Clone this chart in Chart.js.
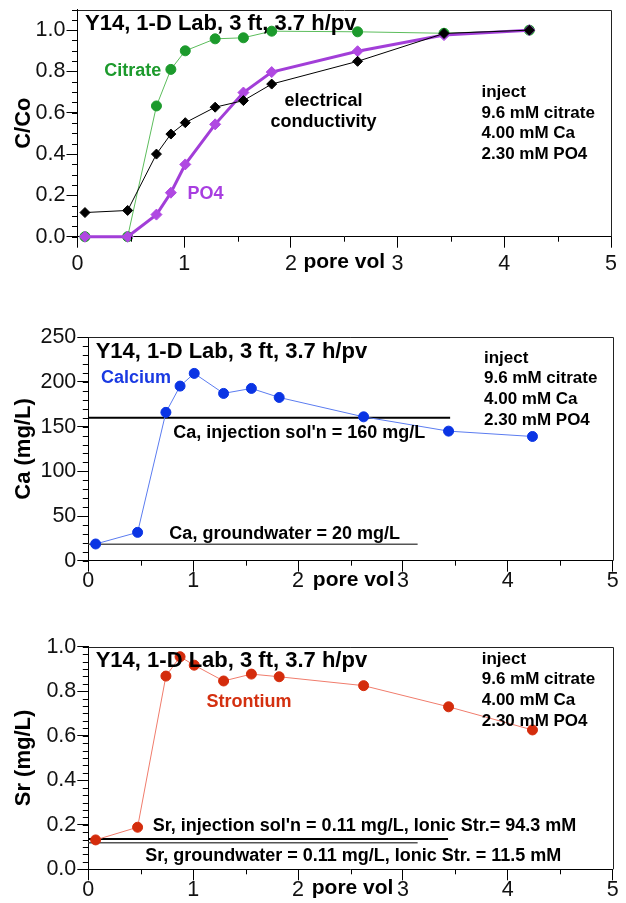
<!DOCTYPE html>
<html><head><meta charset="utf-8">
<script src="https://cdn.jsdelivr.net/npm/chart.js@4.4.1/dist/chart.umd.min.js"></script>
<style>
html,body{margin:0;padding:0;background:#fff;}
#wrap{position:relative;width:626px;height:903px;overflow:hidden;background:#fff;}
canvas{position:absolute;left:0;}
</style></head><body>
<div id="wrap">
<canvas id="c1" width="626" height="300" style="top:0px"></canvas>
<canvas id="c2" width="626" height="310" style="top:300px"></canvas>
<canvas id="c3" width="626" height="293" style="top:610px"></canvas>
</div>
<script>
// ---------- data ----------
const poreVol      = [0.07, 0.47, 0.74, 0.875, 1.01, 1.29, 1.555, 1.82, 2.625, 3.435, 4.235];
const citrateCCo   = [0, 0, 0.633, 0.81, 0.90, 0.958, 0.963, 0.995, 0.992, 0.985, 1.0];
const ecCCo        = [0.117, 0.127, 0.40, 0.497, 0.552, 0.627, 0.659, 0.739, 0.849, 0.984, 1.0];
const po4CCo       = [0, 0, 0.107, 0.213, 0.35, 0.544, 0.698, 0.797, 0.898, 0.976, 1.0];
const calciumMgL   = [18.7, 31.7, 166, 195.4, 209.6, 187.2, 192.8, 182.7, 161, 145, 139];
const strontiumMgL = [0.132, 0.189, 0.868, 0.955, 0.917, 0.846, 0.877, 0.865, 0.825, 0.730, 0.626];

// reference levels (as drawn) and their x extents
const caInjX = [0, 3.45],  caInjY = [160, 160];
const caGwX  = [0, 3.14],  caGwY  = [18.5, 18.5];
const srInjX = [0, 3.43],  srInjY = [0.136, 0.136];
const srGwX  = [0, 3.14],  srGwY  = [0.119, 0.119];

// ticks
const xTicks   = [0, 1, 2, 3, 4, 5];
const ccoTicks = [0, 0.2, 0.4, 0.6, 0.8, 1.0];
const caTicks  = [0, 50, 100, 150, 200, 250];
const srTicks  = [0, 0.2, 0.4, 0.6, 0.8, 1.0];

// texts
const titleText   = 'Y14, 1-D Lab, 3 ft, 3.7 h/pv';
const injectLines = ['inject', '9.6 mM citrate', '4.00 mM Ca', '2.30 mM PO4'];
const xTitle = 'pore vol';

// ---------- helpers ----------
const FONT = "'Liberation Sans', Arial, Helvetica, sans-serif";
Chart.defaults.font.family = FONT;
Chart.defaults.color = '#000';

function steps(min, max, step) {
  const out = []; const n = Math.round((max - min) / step);
  for (let i = 0; i <= n; i++) out.push(+(min + i * step).toFixed(6));
  return out;
}
const pts = (xs, ys) => xs.map((x, i) => ({x, y: ys[i]}));

const decor = {
  id: 'decor',
  afterDraw(chart, _a, o) {
    const {ctx, chartArea: a} = chart;
    const xs = chart.scales.x, ys = chart.scales.y;
    ctx.save();
    // top & right frame
    ctx.lineWidth = 1; ctx.strokeStyle = '#222';
    ctx.beginPath();
    const t = Math.round(a.top) + 0.5, r = Math.round(a.right) + 0.5;
    ctx.moveTo(a.left, t); ctx.lineTo(r, t); ctx.lineTo(r, a.bottom);
    ctx.stroke();
    // minor ticks
    ctx.strokeStyle = '#000';
    ctx.beginPath();
    o.yMinor.forEach(v => { const p = Math.round(ys.getPixelForValue(v)) + 0.5; ctx.moveTo(a.left - 5.5, p); ctx.lineTo(a.left, p); });
    o.xMinor.forEach(v => { const p = Math.round(xs.getPixelForValue(v)) + 0.5; ctx.moveTo(p, a.bottom); ctx.lineTo(p, a.bottom + 5); });
    ctx.stroke();
    // y title
    ctx.save();
    ctx.translate(24, (a.top + a.bottom) / 2);
    ctx.rotate(-Math.PI / 2);
    ctx.font = `bold 22px ${FONT}`; ctx.textAlign = 'center'; ctx.textBaseline = 'middle'; ctx.fillStyle = '#000';
    ctx.fillText(o.yTitle, 0, 0);
    ctx.restore();
    // x title
    ctx.font = `bold 21px ${FONT}`; ctx.textAlign = 'center'; ctx.textBaseline = 'alphabetic'; ctx.fillStyle = '#000';
    ctx.fillText(xTitle, xs.getPixelForValue(o.xTitleAt), a.bottom + o.xTitleDY);
    // title
    ctx.font = `bold 22px ${FONT}`; ctx.textAlign = 'left';
    ctx.fillText(titleText, a.left + o.titleDX, a.top + o.titleDY);
    // inject block
    ctx.font = `bold 17px ${FONT}`;
    injectLines.forEach((s, i) => ctx.fillText(s, a.right - o.injDX, a.top + o.injDY + i * 20.8));
    // annotations (anchored in data units)
    o.labels.forEach(l => {
      ctx.font = `bold ${l.size || 18}px ${FONT}`;
      ctx.textAlign = l.align || 'left';
      ctx.fillStyle = l.color || '#000';
      ctx.fillText(l.text, xs.getPixelForValue(l.x), ys.getPixelForValue(l.y));
    });
    ctx.restore();
  }
};

function makeScales(cfg) {
  return {
    x: {
      type: 'linear', position: 'bottom', min: 0, max: 5,
      afterBuildTicks: s => { s.ticks = xTicks.map(v => ({value: v})); },
      afterFit: s => { s.height = cfg.xH; s.paddingLeft = 0; s.paddingRight = 0; s.paddingTop = 0; s.paddingBottom = 0; },
      grid: {drawOnChartArea: false, drawTicks: true, tickLength: 11, tickColor: '#000', tickWidth: 1},
      border: {display: true, color: '#000', width: 1},
      ticks: {font: {size: 21.5}, color: '#111', padding: cfg.xPad, maxRotation: 0, autoSkip: false,
              callback: v => String(v)}
    },
    y: {
      type: 'linear', position: 'left', min: cfg.yMin, max: cfg.yMax,
      afterBuildTicks: s => { s.ticks = cfg.yTicks.map(v => ({value: v})); },
      afterFit: s => { s.width = cfg.yW; s.paddingTop = 0; s.paddingBottom = 0; s.paddingLeft = 0; s.paddingRight = 0; },
      grid: {drawOnChartArea: false, drawTicks: true, tickLength: 11, tickColor: '#000', tickWidth: 1},
      border: {display: true, color: '#000', width: 1},
      ticks: {font: {size: 21.5}, color: '#111', padding: 1, autoSkip: false,
              callback: cfg.yFmt}
    }
  };
}

function makeChart(id, cfg, datasets, decorOpts) {
  return new Chart(document.getElementById(id), {
    type: 'scatter',
    data: {datasets},
    options: {
      responsive: false, animation: false, events: [],
      layout: {padding: cfg.pad},
      plugins: {legend: {display: false}, tooltip: {enabled: false}, decor: decorOpts},
      scales: makeScales(cfg)
    },
    plugins: [decor]
  });
}

const seriesStyle = (line, point, radius, style, lw) => ({
  showLine: true, borderColor: line, borderWidth: lw, backgroundColor: point,
  pointBackgroundColor: point, pointBorderColor: point, pointBorderWidth: 1,
  pointRadius: radius, pointStyle: style, clip: false, tension: 0
});
const refStyle = (color, lw) => ({
  showLine: true, borderColor: color, borderWidth: lw, pointRadius: 0, clip: false
});

// ---------- chart 1 : C/Co ----------
makeChart('c1',
  {xH: 40, xPad: 3.5, yW: 77.5, yMin: 0, yMax: 1.1, yTicks: ccoTicks, yFmt: v => v.toFixed(1),
   pad: {top: 9.5, right: 15, bottom: 23.3, left: 0}},
  [
    Object.assign({label: 'electrical conductivity', data: pts(poreVol, ecCCo), order: 1}, seriesStyle('#000000', '#000000', 5, 'rectRot', 1)),
    Object.assign({label: 'PO4', data: pts(poreVol, po4CCo), order: 2}, seriesStyle('#a23ed8', '#b048e2', 5.5, 'rectRot', 3)),
    Object.assign({label: 'Citrate', data: pts(poreVol, citrateCCo), order: 3}, seriesStyle('#5cbd5c', '#1c9a2c', 5, 'circle', 1))
  ],
  {yMinor: steps(0, 1.1, 0.05), xMinor: steps(0.5, 4.5, 1), yTitle: 'C/Co', xTitleAt: 2.5, xTitleDY: 31.6,
   titleDX: 7.5, titleDY: 20.5, injDX: 129.5, injDY: 87.2,
   labels: [
     {text: 'Citrate', x: 0.25, y: 0.78, color: '#1c9a2c'},
     {text: 'PO4', x: 1.03, y: 0.183, color: '#a83ee0'},
     {text: 'electrical', x: 2.305, y: 0.634, align: 'center'},
     {text: 'conductivity', x: 2.305, y: 0.531, align: 'center'}
   ]});

// ---------- chart 2 : Ca ----------
makeChart('c2',
  {xH: 40, xPad: -3.5, yW: 88.3, yMin: 0, yMax: 250, yTicks: caTicks, yFmt: v => String(v),
   pad: {top: 37.3, right: 13.3, bottom: 9.3, left: 0}},
  [
    Object.assign({label: 'Calcium', data: pts(poreVol, calciumMgL), order: 1}, seriesStyle('#5b7cf0', '#0a34e4', 5, 'circle', 1)),
    Object.assign({label: 'Ca injection', data: pts(caInjX, caInjY), order: 2}, refStyle('#000000', 2)),
    Object.assign({label: 'Ca groundwater', data: pts(caGwX, caGwY), order: 3}, refStyle('#555555', 1.5))
  ],
  {yMinor: steps(0, 250, 10), xMinor: steps(0.5, 4.5, 1), yTitle: 'Ca (mg/L)', xTitleAt: 2.53, xTitleDY: 25,
   titleDX: 7.4, titleDY: 21, injDX: 128.7, injDY: 25.3,
   labels: [
     {text: 'Calcium', x: 0.121, y: 198.9, color: '#1a3ae2'},
     {text: "Ca, injection sol'n = 160 mg/L", x: 0.811, y: 136.8},
     {text: 'Ca, groundwater = 20 mg/L', x: 0.773, y: 23.9}
   ]});

// ---------- chart 3 : Sr ----------
makeChart('c3',
  {xH: 30, xPad: -3.5, yW: 88.3, yMin: 0, yMax: 1.0, yTicks: srTicks, yFmt: v => v.toFixed(1),
   pad: {top: 36.7, right: 13.3, bottom: 3.7, left: 0}},
  [
    Object.assign({label: 'Strontium', data: pts(poreVol, strontiumMgL), order: 1}, seriesStyle('#f07c6c', '#d42c0c', 5, 'circle', 1)),
    Object.assign({label: 'Sr injection', data: pts(srInjX, srInjY), order: 2}, refStyle('#000000', 2)),
    Object.assign({label: 'Sr groundwater', data: pts(srGwX, srGwY), order: 3}, refStyle('#555555', 1.5))
  ],
  {yMinor: steps(0, 1.0, 0.2 / 6), xMinor: steps(0.5, 4.5, 1), yTitle: 'Sr (mg/L)', xTitleAt: 2.52, xTitleDY: 25,
   titleDX: 7.4, titleDY: 20, injDX: 131, injDY: 16.9,
   labels: [
     {text: 'Strontium', x: 1.128, y: 0.730, color: '#d43010'},
     {text: "Sr, injection sol'n = 0.11 mg/L, Ionic Str.= 94.3 mM", x: 0.615, y: 0.1734},
     {text: 'Sr, groundwater = 0.11 mg/L, Ionic Str. = 11.5 mM', x: 0.542, y: 0.0373}
   ]});
</script>
</body></html>
